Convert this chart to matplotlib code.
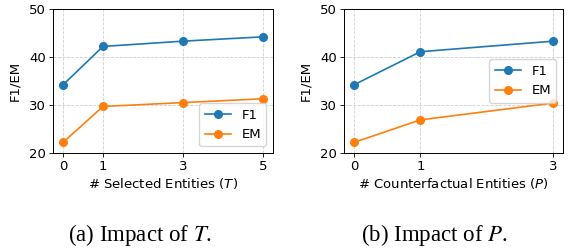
import matplotlib
matplotlib.use('Agg')
import matplotlib.pyplot as plt

# data
sel_x = [0, 1, 3, 5]
sel_f1 = [34.2, 42.2, 43.3, 44.2]
sel_em = [22.2, 29.7, 30.5, 31.3]

cf_x = [0, 1, 3]
cf_f1 = [34.2, 41.1, 43.3]
cf_em = [22.2, 26.9, 30.4]

fs = 9.5

fig = plt.figure(figsize=(5.7, 2.5), dpi=100)
ax1 = fig.add_axes([53 / 570, 1 - 153 / 250, 220 / 570, 144 / 250])
ax2 = fig.add_axes([344 / 570, 1 - 153 / 250, 219 / 570, 144 / 250])

panels = [
    (ax1, sel_x, sel_f1, sel_em, '# Selected Entities ($T$)', 'lower right'),
    (ax2, cf_x, cf_f1, cf_em, '# Counterfactual Entities ($P$)', 'center right'),
]
for ax, x, f1, em, xlabel, loc in panels:
    ax.plot(x, f1, marker='o', ms=5.5, lw=1.2, color='#1f77b4', label='F1')
    ax.plot(x, em, marker='o', ms=5.5, lw=1.2, color='#ff7f0e', label='EM')
    ax.set_ylim(20, 50)
    ax.set_yticks([20, 30, 40, 50])
    ax.set_xticks(x)
    ax.grid(True, ls='--', color='#d0d0d0', lw=0.6)
    ax.tick_params(labelsize=fs, length=3, width=0.6, pad=2)
    ax.set_xlabel(xlabel, fontsize=fs, labelpad=2)
    ax.set_ylabel('F1/EM', fontsize=fs, labelpad=6)
    for s in ax.spines.values():
        s.set_linewidth(0.7)
    ax.legend(loc=loc, fontsize=fs, handlelength=2.0, borderpad=0.4)

fig.text(140 / 570, 1 - 235 / 250, '(a) Impact of $T$.', ha='center', va='center',
         family='Liberation Serif', math_fontfamily='stix', fontsize=16.5)
fig.text(434 / 570, 1 - 235 / 250, '(b) Impact of $P$.', ha='center', va='center',
         family='Liberation Serif', math_fontfamily='stix', fontsize=16.5)

fig.savefig('out.png', dpi=100)
